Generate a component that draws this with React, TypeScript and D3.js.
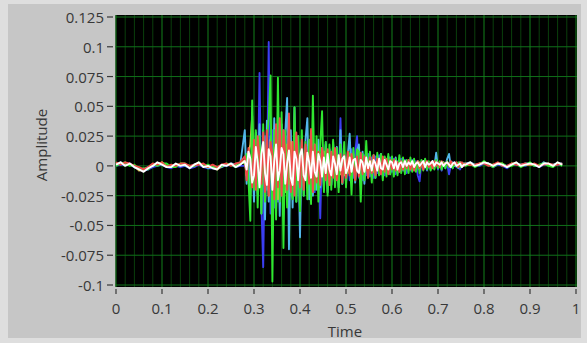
import React from 'react';
import * as d3 from 'd3';

const W = 587;
const H = 343;

// Axis ticks (amplitude values stored in thousandths)
const yTickValues = [125, 100, 75, 50, 25, 0, -25, -50, -75, -100];
const yTickLabels = ['0.125', '0.1', '0.075', '0.05', '0.025', '0', '-0.025', '-0.05', '-0.075', '-0.1'];
const xTickValues = [0, 0.1, 0.2, 0.3, 0.4, 0.5, 0.6, 0.7, 0.8, 0.9, 1];
const xTickLabels = ['0', '0.1', '0.2', '0.3', '0.4', '0.5', '0.6', '0.7', '0.8', '0.9', '1'];
const xMinorGrid = [0.02, 0.04, 0.06, 0.08, 0.12, 0.14, 0.16, 0.18, 0.22, 0.24, 0.26, 0.28, 0.32, 0.34, 0.36, 0.38, 0.42, 0.44, 0.46, 0.48, 0.52, 0.54, 0.56, 0.58, 0.62, 0.64, 0.66, 0.68, 0.72, 0.74, 0.76, 0.78, 0.82, 0.84, 0.86, 0.88, 0.92, 0.94, 0.96, 0.98];

// Waveform segments: t0 and dt of each segment (seconds)
const preStart = 0, preStep = 0.01;
const burstStart = 0.28, burstStep = 0.004;
const tailStart = 0.76, tailStep = 0.01;

// Amplitude ×1000
const whitePre = [1, 3, 0, 2, -1, -3, -5, -2, 0, 3, 1, -1, -1, 2, 0, 1, -2, 1, 3, -1, 0, -2, -3, 1, 0, 2, -1, 1];
const redPre = [3, 1, 3, 2, 0, -1, -3, -1, 2, 1, 3, -1, 1, 0, 2, 2, 0, 1, 1, 2, -1, 1, -1, 1, 2, 0, 2, 3];
const greenPre = [0, 2, 3, 0, 1, -3, -2, -3, 1, 0, 2, 2, -1, -1, 2, 2, -1, 0, 3, 0, 1, -1, -1, 0, 2, 1, -1, 3];
const bluePre = [0, 1, 1, 2, -1, -3, -4, -3, -1, 0, 1, -1, -2, 0, -1, 0, -2, -1, 1, -1, -2, -2, -2, 0, 0, 1, -1, 0];
const cyanPre = [1, 3, 1, 1, -1, -3, -3, -1, 0, 2, 2, 0, 0, 0, 1, 0, -1, 1, 2, 1, -2, -1, -2, -1, 1, 2, 1, 1];
const yellowPre = [2, 2, 2, 1, 0, -4, -3, -2, 1, 1, 3, 0, -1, 1, 1, 1, 0, 0, 2, 0, -1, -1, -3, 0, 1, 1, 0, 2];

const greenBurst = [
  2, 10, -12, -46, 55, -20, 30, -35, 25, -40,
  35, -30, 20, 40, 76, -97, 30, -45, 74, -30,
  45, -69, 30, -35, 25, -20, -28, 49, -30, 25,
  -38, 30, -25, 20, -28, 22, -32, 59, -20, 25,
  -30, 18, 46, -22, 20, -25, 18, -20, 22, -18,
  15, -22, 18, -15, 20, -18, 12, 10, -24, 15,
  -12, 14, 12, -30, 10, -12, 21, -10, 12, -14,
  9, -10, 11, -8, 10, -12, 8, -9, 10, -7,
  8, -9, 6, -8, 9, -6, 7, -7, 5, -6,
  7, -5, 6, -5, 4, -6, 5, -4, 6, -3,
  4, -4, 3, -3, 5, -2, 4, -3, 3, -2,
  4, -1, 3, -2, 2, 0, 3, -1, 2, 1,
];
const blueBurst = [
  0, -3, 8, -10, 15, -12, 20, -25, 78, -30,
  -85, 25, -20, 104, -40, 30, -35, 25, -30, 20,
  -25, 30, -20, 25, -28, 20, -22, 18, -25, 20,
  -18, 22, -20, 15, -18, 20, -15, 18, -22, 16,
  12, -44, 15, -18, 20, -15, 14, -16, 18, -12,
  15, -14, 40, -15, 12, -14, 10, -12, 14, -10,
  12, 25, -10, 8, -12, 9, -8, 10, -9, 7,
  -10, 8, -6, 9, -7, 6, -8, 5, -6, 7,
  -5, 6, -7, 4, -5, 6, -4, 5, -6, 3,
  -4, 5, -3, 4, -8, -13, 4, -3, 3, -4,
  2, -3, 3, -2, 4, -3, 2, -4, 3, -2,
  2, -7, 1, -2, 3, -1, 2, -3, 1, 0,
];
const cyanBurst = [
  30, -15, 12, -25, 20, -30, 28, -20, 35, -40,
  30, -45, 38, -30, 25, -35, 40, -38, 30, -42,
  35, -30, 28, 57, -70, 30, -35, 49, -30, 25,
  -60, 20, -25, 22, 40, -28, 20, -25, 18, -20,
  22, -18, 15, -20, 18, -22, 14, -16, 20, -14,
  16, -18, 30, -15, 12, -14, 10, 27, -12, 10,
  -14, 12, 18, -10, 12, -15, 10, -9, 11, -8,
  9, -10, 8, -7, 10, -8, 7, -6, 8, -7,
  6, -5, 7, -6, 5, -4, 6, -5, 4, -3,
  5, -4, 3, -3, 4, -3, 3, -2, 3, -3,
  2, -2, 4, -1, 11, -2, 3, -1, 2, 0,
  6, 10, -1, 3, 0, 2, -2, 3, 1, 2,
];
const redBurst = [
  8, -12, 15, 4, -18, 22, -20, 25, 6, -15,
  28, -22, 30, -25, 20, 10, -28, 35, -18, 40,
  -25, 30, 8, -20, 44, -22, 20, -25, 28, 2,
  -18, 22, -20, 18, 5, -15, 31, -22, 18, -14,
  12, -16, 15, 3, -12, 14, -16, 12, -10, 15,
  -12, 2, 10, -14, 9, -10, 12, -8, 10, 1,
  -12, 8, -9, 11, -7, 8, 2, -10, 7, -6,
  9, -8, 6, 0, -7, 8, -5, 6, -7, 5,
  -3, 5, -4, 3, -5, 4, -3, 4, -2, 5,
  -3, 3, -4, 2, 4, -2, 3, -3, 2, 4,
  -1, 3, -2, 4, 0, 3, -1, 4, 1, 2,
  3, 0, 4, 1, 2, 3, -1, 2, 3, 0,
];
const yellowBurst = [
  5, -8, 10, 18, 42, -15, 20, -22, 15, -18,
  25, -20, 18, -25, 22, -15, 20, 30, -28, 18,
  -20, 15, -22, 18, -15, 20, -18, 14, -16, 12,
  -14, 16, -12, 10, -15, 12, -10, 14, -12, 9,
  -11, 10, -8, 12, -9, 8, -10, 7, -8, 9,
  -6, 8, -7, 6, -8, 5, -6, 7, -5, 6,
  -4, 5, -6, 4, -5, 3, -4, 5, -3, 4,
  -5, 3, -3, 4, -2, 3, -4, 2, -3, 3,
  -2, 4, -1, 3, -2, 2, 0, 3, -1, 2,
  1, 3, -1, 2, 0, 3, 1, -1, 2, 1,
  3, 0, 2, 1, 3, -1, 2, 0, 3, 1,
  2, 0, 3, 1, 1, 2, 0, 3, 1, 2,
];
const whiteBurst = [
  4, -3, 12, 6, -14, -8, 16, 3, -18, 10,
  20, -6, -16, 14, 8, -20, 4, 18, -12, -4,
  15, 10, -15, 2, 13, -10, -16, 12, 6, -12,
  9, 14, -8, -12, 11, 3, -10, 12, -5, -9,
  10, 4, -9, 7, -6, 10, -3, -8, 8, 2,
  -7, 9, -4, 6, 8, -6, -2, 7, -5, 5,
  6, -4, -6, 5, 3, -5, 7, -2, 4, -4,
  5, 2, -4, 6, -2, -3, 5, 1, -3, 4,
  3, -2, 4, -3, 2, 3, -1, 4, 0, 3,
  1, 4, -1, 2, 3, 0, 2, 4, -1, 3,
  1, 2, 4, 0, 3, 2, 1, 3, 0, 2,
  3, 1, -1, 2, 3, 0, 1, 2, -1, 1,
];

const whiteTail = [1, 3, 0, 1, 3, 2, 0, 2, 1, -1, 1, 3, 0, 1, 2, 1, -1, 2, 2, 0, 3, 1];
const redTail = [2, 1, 1, 2, 2, 0, 1, 3, 0, 0, 2, 1, 1, 2, 1, 2, 0, 1, 2, 1, 1, 2];
const greenTail = [0, 2, -1, 1, 4, 1, -1, 2, 2, -1, 0, 2, -1, 1, 3, 0, 1, 2, 0, -1, 2, 0];
const blueTail = [1, 2, 0, 0, 2, 1, -1, 1, 0, -2, 1, 1, 0, 0, 2, 1, -1, 1, 1, 0, 1, 1];
const cyanTail = [2, 3, 1, 1, 3, 2, 0, 2, 1, 0, 1, 2, 1, 2, 2, 0, 0, 3, 1, 1, 2, 2];
const yellowTail = [1, 1, 0, 2, 3, 1, 1, 2, 2, -1, 2, 2, 0, 1, 1, 1, 0, 2, 1, 0, 2, 1];

const seriesList = [
  { name: 'blue', color: '#3b3ef2', pre: bluePre, burst: blueBurst, tail: blueTail },
  { name: 'cyan', color: '#52b6ea', pre: cyanPre, burst: cyanBurst, tail: cyanTail },
  { name: 'yellow', color: '#e6b64a', pre: yellowPre, burst: yellowBurst, tail: yellowTail },
  { name: 'green', color: '#2fe62f', pre: greenPre, burst: greenBurst, tail: greenTail },
  { name: 'red', color: '#f04a4a', pre: redPre, burst: redBurst, tail: redTail },
  { name: 'white', color: '#ffffff', pre: whitePre, burst: whiteBurst, tail: whiteTail },
];

type Pt = [number, number];
function toPoints(s: { pre: number[]; burst: number[]; tail: number[] }): Pt[] {
  const pts: Pt[] = [];
  s.pre.forEach((v, i) => pts.push([preStart + i * preStep, v]));
  s.burst.forEach((v, i) => pts.push([burstStart + i * burstStep, v]));
  s.tail.forEach((v, i) => pts.push([tailStart + i * tailStep, v]));
  return pts;
}

const plotLeft = 115.5;
const plotRight = 577;
const plotTop = 15;
const plotBottom = 287;

export default function App() {
  const x = d3.scaleLinear().domain([0, 1]).range([116, 576]);
  const y = d3.scaleLinear().domain([-100, 125]).range([285, 17]);
  const line = d3
    .line<Pt>()
    .x((d) => x(d[0]))
    .y((d) => y(d[1]));

  const font = "'Open Sans', 'Noto Sans', sans-serif";
  const textColor = '#383838';

  return (
    <svg
      width={W}
      height={H}
      viewBox={`0 0 ${W} ${H}`}
      style={{ position: 'absolute', left: 0, top: 0, display: 'block' }}
    >
      <rect x={0} y={0} width={W} height={H} fill="#dedede" />
      <rect x={8} y={4} width={573} height={334} fill="#c6c6c6" />
      <defs>
        <clipPath id="plotClip">
          <rect x={plotLeft} y={plotTop} width={plotRight - plotLeft} height={plotBottom - plotTop} />
        </clipPath>
      </defs>
      <rect x={plotLeft} y={plotTop} width={plotRight - plotLeft} height={plotBottom - plotTop} fill="#000" />
      <g>
        {xMinorGrid.map((v) => (
          <line key={'mx' + v} x1={x(v)} x2={x(v)} y1={plotTop} y2={plotBottom} stroke="#0a3f0c" strokeWidth={1} />
        ))}
        {yTickValues.map((v) => (
          <line key={'gy' + v} x1={plotLeft} x2={plotRight} y1={y(v)} y2={y(v)} stroke="#10701a" strokeWidth={1} />
        ))}
        {xTickValues.map((v) => (
          <line key={'gx' + v} x1={x(v)} x2={x(v)} y1={plotTop} y2={plotBottom} stroke="#12801a" strokeWidth={1} />
        ))}
      </g>
      <g clipPath="url(#plotClip)">
        {seriesList.map((s) => (
          <path
            key={s.name}
            d={line(toPoints(s)) || ''}
            fill="none"
            stroke={s.color}
            strokeWidth={1.9}
            strokeLinejoin="round"
          />
        ))}
      </g>
      <g fontFamily={font} fontSize={15} fill={textColor}>
        {yTickValues.map((v, i) => (
          <g key={'yt' + v}>
            <line x1={107} x2={113} y1={y(v)} y2={y(v)} stroke={textColor} strokeWidth={1.2} />
            <text x={104} y={y(v)} textAnchor="end" dominantBaseline="central">
              {yTickLabels[i]}
            </text>
          </g>
        ))}
        {xTickValues.map((v, i) => (
          <g key={'xt' + v}>
            <line x1={x(v)} x2={x(v)} y1={289} y2={294} stroke={textColor} strokeWidth={1.2} />
            <text x={x(v)} y={308} textAnchor="middle" dominantBaseline="central">
              {xTickLabels[i]}
            </text>
          </g>
        ))}
        <text x={345} y={331} textAnchor="middle" dominantBaseline="central">
          Time
        </text>
        <text
          x={41}
          y={145}
          textAnchor="middle"
          dominantBaseline="central"
          transform="rotate(-90 41 145)"
        >
          Amplitude
        </text>
      </g>
    </svg>
  );
}
